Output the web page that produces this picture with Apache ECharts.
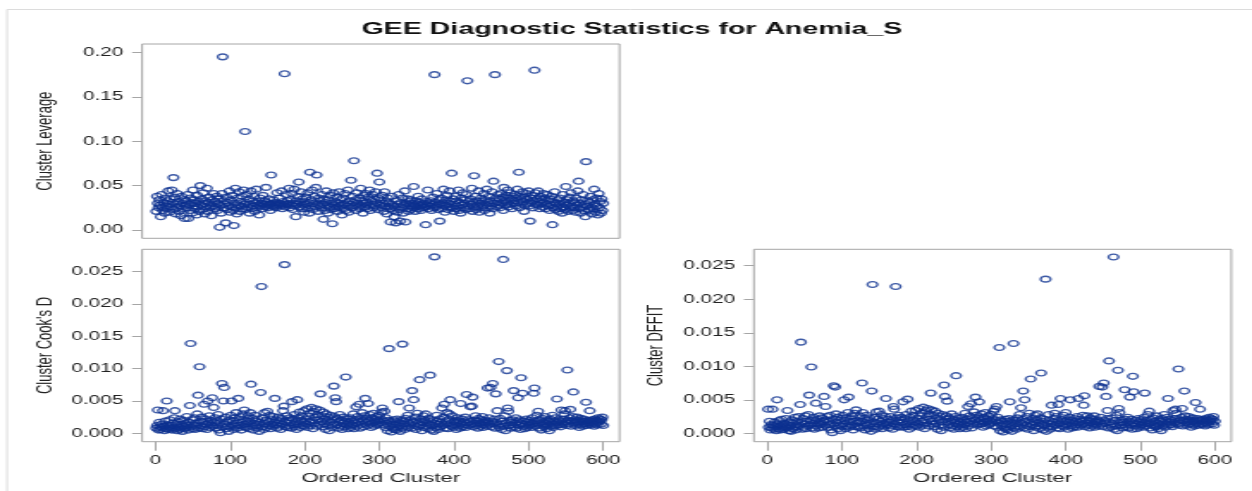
<!DOCTYPE html>
<html>
<head>
<meta charset="utf-8">
<script src="https://cdn.jsdelivr.net/npm/echarts@6/dist/echarts.min.js"></script>
<style>
  html, body { margin: 0; padding: 0; background: #fff; overflow: hidden; }
  /* the panel is laid out narrow and widened horizontally, which gives the wide glyphs and oval markers */
  #chart { width: 728px; height: 491px; transform: scaleX(1.72); transform-origin: 0 0; }
</style>
</head>
<body>
<div id="chart"></div>
<script>
// Cluster leverage, clusters 1..600 in order (20 per row)
const leverage = [
  .021,.038,.030,.025,.034,.028,.015,.040,.026,.022,.031,.019,.036,.027,.024,.033,.044,.029,.020,.035,
  .026,.045,.031,.059,.023,.037,.018,.029,.041,.025,.032,.021,.027,.016,.038,.030,.024,.034,.013,.028,
  .033,.025,.040,.013,.029,.022,.036,.031,.019,.045,.027,.034,.024,.030,.017,.039,.026,.032,.021,.050,
  .028,.035,.023,.042,.030,.018,.033,.026,.047,.021,.031,.037,.025,.029,.016,.034,.027,.041,.024,.032,
  .026,.038,.022,.030,.035,.003,.028,.019,.041,.195,.025,.033,.029,.008,.037,.023,.031,.027,.044,.020,
  .034,.026,.039,.022,.005,.030,.047,.025,.018,.036,.028,.043,.021,.032,.027,.038,.024,.045,.029,.111,
  .023,.031,.040,.026,.035,.019,.029,.044,.024,.033,.027,.038,.021,.030,.046,.025,.032,.028,.017,.036,
  .027,.030,.024,.039,.029,.033,.026,.048,.028,.031,.025,.035,.029,.022,.062,.030,.027,.034,.026,.029,
  .031,.025,.042,.028,.030,.036,.027,.029,.044,.024,.032,.028,.176,.026,.040,.029,.033,.030,.047,.025,
  .034,.028,.041,.023,.030,.046,.027,.015,.033,.029,.038,.054,.026,.031,.043,.024,.035,.028,.020,.032,
  .029,.037,.024,.042,.031,.019,.065,.027,.034,.045,.023,.030,.038,.026,.048,.062,.029,.021,.036,.028,
  .033,.025,.040,.029,.012,.035,.022,.031,.044,.027,.019,.034,.026,.039,.023,.030,.007,.042,.028,.024,
  .032,.026,.037,.021,.030,.043,.025,.034,.028,.017,.036,.024,.029,.041,.022,.031,.027,.045,.020,.033,
  .029,.056,.025,.038,.031,.078,.027,.034,.022,.042,.030,.026,.036,.024,.047,.028,.033,.019,.039,.030,
  .026,.041,.031,.024,.037,.028,.045,.022,.033,.029,.040,.025,.035,.027,.043,.031,.064,.023,.036,.054,
  .028,.034,.025,.039,.030,.021,.043,.027,.032,.018,.036,.026,.031,.024,.009,.029,.038,.022,.027,.015,
  .025,.008,.033,.020,.029,.040,.023,.010,.031,.026,.036,.019,.028,.044,.009,.030,.024,.035,.021,.032,
  .027,.034,.023,.030,.025,.049,.028,.021,.033,.026,.029,.038,.024,.031,.027,.022,.035,.028,.025,.030,
  .026,.006,.032,.028,.045,.024,.030,.027,.033,.022,.029,.037,.025,.175,.031,.026,.041,.028,.023,.034,
  .010,.029,.036,.024,.031,.046,.027,.020,.034,.028,.039,.023,.030,.044,.026,.032,.064,.025,.035,.021,
  .029,.038,.024,.033,.027,.045,.022,.031,.019,.036,.028,.042,.025,.030,.034,.023,.040,.168,.027,.032,
  .024,.035,.029,.047,.021,.031,.061,.026,.038,.023,.033,.028,.044,.020,.030,.036,.025,.032,.027,.041,
  .022,.034,.029,.046,.025,.031,.038,.019,.033,.027,.043,.024,.055,.030,.175,.036,.026,.032,.040,.028,
  .035,.025,.041,.030,.037,.022,.048,.033,.028,.039,.031,.045,.026,.036,.029,.042,.034,.024,.038,.030,
  .033,.040,.027,.036,.046,.031,.065,.025,.038,.034,.029,.043,.032,.021,.037,.028,.041,.035,.030,.044,
  .027,.010,.036,.031,.039,.025,.033,.180,.042,.029,.035,.028,.044,.032,.024,.038,.030,.034,.026,.041,
  .031,.036,.024,.029,.040,.027,.033,.022,.035,.028,.038,.006,.025,.031,.043,.023,.030,.026,.034,.021,
  .029,.036,.024,.032,.019,.040,.026,.031,.023,.049,.028,.034,.021,.030,.037,.025,.042,.027,.022,.033,
  .025,.031,.020,.036,.028,.044,.055,.024,.030,.019,.034,.026,.040,.022,.029,.015,.077,.027,.033,.023,
  .031,.022,.038,.026,.018,.034,.024,.046,.029,.020,.036,.027,.017,.041,.025,.032,.019,.035,.022,.030
];

// Cluster Cook's D, clusters 1..600
const cooksD = [
  .0008,.0012,.0036,.0005,.0017,.0010,.0006,.0014,.0009,.0035,.0011,.0004,.0019,.0007,.0050,.0013,.0006,.0010,.0021,.0008,
  .0012,.0005,.0016,.0009,.0024,.0035,.0007,.0013,.0004,.0018,.0010,.0006,.0022,.0008,.0014,.0003,.0011,.0020,.0007,.0015,
  .0009,.0026,.0012,.0005,.0017,.0043,.0139,.0010,.0021,.0007,.0013,.0024,.0006,.0016,.0011,.0030,.0059,.0008,.0103,.0019,
  .0012,.0025,.0007,.0018,.0045,.0010,.0022,.0014,.0006,.0050,.0016,.0027,.0009,.0020,.0013,.0055,.0011,.0040,.0017,.0024,
  .0008,.0019,.0012,.0029,.0005,.0016,.0001,.0022,.0077,.0010,.0050,.0071,.0014,.0025,.0007,.0018,.0011,.0003,.0021,.0009,
  .0028,.0050,.0013,.0019,.0006,.0024,.0011,.0032,.0016,.0008,.0054,.0021,.0012,.0026,.0005,.0017,.0030,.0010,.0036,.0014,
  .0020,.0009,.0015,.0027,.0007,.0018,.0032,.0076,.0011,.0023,.0005,.0016,.0028,.0012,.0019,.0008,.0022,.0014,.0003,.0017,
  .0063,.0227,.0010,.0024,.0006,.0032,.0015,.0020,.0009,.0034,.0012,.0018,.0028,.0007,.0022,.0014,.0011,.0026,.0017,.0054,
  .0013,.0021,.0008,.0016,.0025,.0011,.0019,.0006,.0023,.0014,.0035,.0042,.0261,.0010,.0017,.0027,.0009,.0020,.0012,.0024,
  .0016,.0008,.0049,.0022,.0013,.0029,.0010,.0018,.0006,.0052,.0024,.0014,.0033,.0009,.0020,.0027,.0012,.0017,.0035,.0011,
  .0022,.0015,.0038,.0009,.0026,.0018,.0031,.0012,.0040,.0020,.0007,.0034,.0016,.0025,.0038,.0011,.0029,.0021,.0014,.0036,
  .0061,.0018,.0027,.0010,.0033,.0015,.0022,.0006,.0030,.0019,.0012,.0025,.0004,.0017,.0028,.0009,.0021,.0014,.0073,.0026,
  .0055,.0049,.0013,.0023,.0008,.0018,.0029,.0011,.0020,.0006,.0016,.0025,.0010,.0019,.0087,.0014,.0022,.0007,.0017,.0012,
  .0024,.0009,.0019,.0013,.0030,.0007,.0021,.0016,.0041,.0011,.0026,.0018,.0045,.0008,.0022,.0014,.0032,.0020,.0010,.0027,
  .0054,.0017,.0023,.0012,.0046,.0019,.0029,.0014,.0009,.0024,.0016,.0031,.0011,.0021,.0018,.0026,.0013,.0020,.0015,.0028,
  .0017,.0022,.0033,.0039,.0013,.0019,.0034,.0009,.0024,.0015,.0004,.0020,.0131,.0011,.0018,.0002,.0014,.0008,.0021,.0006,
  .0013,.0018,.0005,.0022,.0010,.0049,.0016,.0003,.0020,.0008,.0138,.0014,.0019,.0006,.0023,.0011,.0017,.0028,.0009,.0039,
  .0015,.0021,.0008,.0066,.0018,.0052,.0012,.0025,.0006,.0019,.0031,.0010,.0016,.0083,.0013,.0022,.0004,.0017,.0027,.0009,
  .0020,.0030,.0011,.0016,.0007,.0023,.0013,.0090,.0018,.0005,.0012,.0021,.0003,.0273,.0015,.0009,.0028,.0019,.0006,.0014,
  .0022,.0010,.0017,.0039,.0012,.0025,.0045,.0008,.0019,.0014,.0032,.0007,.0021,.0030,.0052,.0016,.0011,.0027,.0009,.0018,
  .0013,.0020,.0006,.0017,.0024,.0011,.0019,.0008,.0046,.0015,.0022,.0010,.0018,.0013,.0025,.0009,.0060,.0016,.0021,.0012,
  .0018,.0041,.0014,.0042,.0056,.0010,.0020,.0015,.0027,.0012,.0019,.0008,.0023,.0016,.0011,.0021,.0014,.0026,.0009,.0017,
  .0013,.0020,.0016,.0011,.0070,.0018,.0024,.0014,.0071,.0010,.0019,.0077,.0015,.0022,.0008,.0061,.0017,.0035,.0012,.0111,
  .0009,.0023,.0014,.0006,.0019,.0269,.0011,.0027,.0004,.0016,.0097,.0039,.0034,.0012,.0020,.0008,.0017,.0013,.0021,.0066,
  .0010,.0016,.0024,.0008,.0018,.0055,.0013,.0021,.0006,.0086,.0015,.0062,.0011,.0019,.0007,.0014,.0022,.0009,.0017,.0012,
  .0020,.0013,.0017,.0009,.0024,.0015,.0062,.0070,.0011,.0019,.0028,.0014,.0034,.0008,.0021,.0016,.0005,.0023,.0012,.0018,
  .0010,.0026,.0015,.0007,.0020,.0013,.0018,.0004,.0022,.0011,.0016,.0028,.0009,.0019,.0014,.0024,.0012,.0053,.0017,.0021,
  .0013,.0019,.0010,.0036,.0016,.0022,.0014,.0030,.0035,.0018,.0012,.0098,.0020,.0015,.0024,.0037,.0011,.0019,.0026,.0064,
  .0016,.0021,.0012,.0018,.0025,.0014,.0020,.0009,.0017,.0023,.0013,.0019,.0011,.0022,.0015,.0018,.0048,.0012,.0020,.0016,
  .0014,.0035,.0019,.0013,.0021,.0016,.0018,.0011,.0022,.0015,.0020,.0013,.0024,.0017,.0019,.0022,.0014,.0021,.0025,.0012
];

// Cluster DFFIT, clusters 1..600
const dffit = [
  .0036,.0009,.0018,.0005,.0013,.0008,.0036,.0012,.0006,.0017,.0010,.0004,.0050,.0014,.0007,.0019,.0011,.0005,.0021,.0009,
  .0013,.0006,.0015,.0010,.0022,.0008,.0034,.0012,.0004,.0017,.0011,.0003,.0020,.0007,.0015,.0009,.0024,.0005,.0013,.0018,
  .0010,.0025,.0012,.0043,.0136,.0016,.0006,.0022,.0009,.0014,.0026,.0007,.0018,.0011,.0028,.0057,.0013,.0019,.0099,.0008,
  .0015,.0024,.0006,.0019,.0045,.0011,.0021,.0014,.0008,.0026,.0016,.0013,.0023,.0009,.0018,.0055,.0012,.0040,.0020,.0025,
  .0009,.0018,.0013,.0027,.0005,.0015,.0001,.0021,.0071,.0011,.0069,.0029,.0016,.0024,.0007,.0019,.0012,.0004,.0022,.0010,
  .0027,.0014,.0050,.0019,.0007,.0023,.0011,.0031,.0054,.0009,.0017,.0021,.0012,.0026,.0005,.0018,.0030,.0010,.0035,.0015,
  .0019,.0009,.0016,.0026,.0008,.0018,.0075,.0031,.0011,.0022,.0005,.0016,.0027,.0012,.0020,.0007,.0023,.0014,.0003,.0063,
  .0222,.0017,.0010,.0024,.0006,.0032,.0015,.0021,.0009,.0033,.0012,.0018,.0028,.0007,.0022,.0014,.0011,.0025,.0052,.0016,
  .0013,.0021,.0008,.0016,.0025,.0011,.0019,.0006,.0040,.0036,.0014,.0219,.0023,.0010,.0017,.0027,.0009,.0020,.0012,.0024,
  .0016,.0047,.0009,.0022,.0013,.0028,.0010,.0051,.0018,.0006,.0024,.0014,.0033,.0009,.0020,.0027,.0012,.0017,.0034,.0011,
  .0022,.0015,.0037,.0009,.0026,.0018,.0030,.0012,.0039,.0020,.0007,.0034,.0016,.0025,.0037,.0011,.0029,.0021,.0060,.0035,
  .0018,.0014,.0027,.0010,.0033,.0015,.0022,.0006,.0030,.0019,.0012,.0025,.0004,.0017,.0028,.0009,.0072,.0055,.0021,.0026,
  .0048,.0017,.0013,.0023,.0008,.0018,.0029,.0011,.0020,.0006,.0016,.0025,.0086,.0010,.0019,.0014,.0022,.0007,.0017,.0012,
  .0024,.0009,.0019,.0013,.0030,.0007,.0021,.0016,.0040,.0011,.0026,.0018,.0044,.0008,.0022,.0014,.0032,.0020,.0054,.0027,
  .0012,.0017,.0023,.0047,.0014,.0019,.0029,.0014,.0009,.0024,.0016,.0031,.0011,.0021,.0018,.0026,.0013,.0020,.0015,.0028,
  .0017,.0022,.0033,.0011,.0036,.0019,.0040,.0009,.0024,.0015,.0128,.0004,.0020,.0011,.0018,.0002,.0014,.0008,.0021,.0006,
  .0013,.0018,.0005,.0022,.0047,.0010,.0016,.0003,.0020,.0134,.0008,.0014,.0019,.0006,.0023,.0011,.0017,.0028,.0009,.0038,
  .0015,.0021,.0063,.0008,.0050,.0018,.0012,.0025,.0006,.0019,.0030,.0010,.0081,.0016,.0013,.0022,.0004,.0017,.0027,.0009,
  .0020,.0029,.0011,.0016,.0007,.0023,.0090,.0013,.0018,.0005,.0012,.0021,.0230,.0003,.0015,.0009,.0028,.0019,.0006,.0014,
  .0042,.0010,.0017,.0022,.0030,.0012,.0025,.0008,.0019,.0043,.0014,.0007,.0052,.0021,.0016,.0011,.0027,.0009,.0018,.0031,
  .0013,.0020,.0006,.0017,.0024,.0050,.0011,.0019,.0008,.0015,.0022,.0010,.0018,.0013,.0025,.0009,.0052,.0016,.0021,.0012,
  .0018,.0014,.0027,.0042,.0056,.0010,.0020,.0015,.0026,.0012,.0019,.0008,.0023,.0016,.0011,.0021,.0014,.0026,.0009,.0017,
  .0013,.0020,.0016,.0011,.0070,.0018,.0024,.0014,.0069,.0010,.0075,.0019,.0015,.0055,.0022,.0034,.0008,.0108,.0017,.0012,
  .0009,.0023,.0014,.0263,.0006,.0019,.0011,.0027,.0004,.0094,.0037,.0031,.0016,.0012,.0020,.0008,.0017,.0013,.0065,.0021,
  .0010,.0016,.0024,.0008,.0018,.0054,.0013,.0021,.0006,.0085,.0062,.0015,.0011,.0019,.0007,.0014,.0022,.0009,.0017,.0012,
  .0020,.0013,.0017,.0009,.0024,.0060,.0015,.0011,.0019,.0028,.0014,.0033,.0008,.0021,.0016,.0005,.0023,.0012,.0018,.0010,
  .0010,.0026,.0015,.0007,.0020,.0013,.0018,.0004,.0022,.0011,.0016,.0028,.0009,.0019,.0014,.0024,.0052,.0012,.0017,.0021,
  .0013,.0019,.0010,.0034,.0016,.0022,.0036,.0030,.0014,.0018,.0096,.0012,.0020,.0015,.0024,.0037,.0011,.0019,.0063,.0026,
  .0016,.0021,.0012,.0018,.0025,.0014,.0020,.0009,.0017,.0023,.0013,.0019,.0011,.0046,.0015,.0018,.0022,.0012,.0020,.0036,
  .0014,.0019,.0013,.0021,.0016,.0018,.0011,.0022,.0015,.0020,.0013,.0024,.0017,.0019,.0022,.0014,.0021,.0025,.0012,.0018
];

// Tick values shown on each axis
const clusterTicks = [0, 100, 200, 300, 400, 500, 600];
const leverageTicks = [0, 0.05, 0.10, 0.15, 0.20];
const cooksTicks = [0, 0.005, 0.010, 0.015, 0.020, 0.025];
const dffitTicks = [0, 0.005, 0.010, 0.015, 0.020, 0.025];

const FONT = '"Liberation Sans", Arial, Helvetica, sans-serif';
const MARKER = '#0d3190';
const FRAME = '#a6a6a6';
const TEXT = '#222';

// [ordered cluster, statistic] pairs
function toPoints(values) {
  return values.map((v, i) => [i + 1, v]);
}

function clusterAxis(gridIndex, labelled) {
  return {
    type: 'value', gridIndex, min: -18, max: 622,
    axisLine: { show: false, onZero: false },
    splitLine: { show: false },
    axisTick: { show: labelled, length: 9, customValues: clusterTicks, lineStyle: { color: FRAME, width: 1 } },
    axisLabel: { show: labelled, customValues: clusterTicks, margin: 13, fontSize: 12, fontFamily: FONT, color: TEXT },
    name: labelled ? 'Ordered Cluster' : '',
    nameLocation: 'middle', nameGap: 30,
    nameTextStyle: { fontSize: 13, fontFamily: FONT, color: TEXT }
  };
}

function statAxis(gridIndex, min, max, ticks, digits, title) {
  return {
    type: 'value', gridIndex, min, max,
    axisLine: { show: false, onZero: false },
    splitLine: { show: false },
    axisTick: { length: 5.8, customValues: ticks, lineStyle: { color: FRAME, width: 1 } },
    axisLabel: { customValues: ticks, margin: 11, fontSize: 12, fontFamily: FONT, color: TEXT,
                 formatter: v => v.toFixed(digits) },
    name: title, nameLocation: 'middle', nameGap: 50,
    nameTextStyle: { fontSize: 13, fontFamily: FONT, color: TEXT }
  };
}

function panel(gridIndex, values) {
  return {
    type: 'scatter', xAxisIndex: gridIndex, yAxisIndex: gridIndex,
    data: toPoints(values),
    symbol: 'circle', symbolSize: 5.8,
    itemStyle: { color: 'rgba(0,0,0,0)', borderColor: MARKER, borderWidth: 1.35 },
    silent: true, animation: false
  };
}

const gridBox = { show: true, borderColor: FRAME, borderWidth: 1, backgroundColor: '#fff',
                  containLabel: false, outerBoundsMode: 'none' };

const chart = echarts.init(document.getElementById('chart'), null, { renderer: 'canvas' });
chart.setOption({
  animation: false,
  backgroundColor: '#fff',
  graphic: [
    { type: 'rect', silent: true, z: -10,
      shape: { x: 4.1, y: 9.5, width: 1000, height: 1000 },
      style: { fill: 'none', stroke: '#dcdcdc', lineWidth: 1 } },
    { type: 'text', silent: true, x: 367.4, y: 29,
      style: { text: 'GEE Diagnostic Statistics for Anemia_S', font: 'bold 16.6px ' + FONT,
               fill: '#111', align: 'center', verticalAlign: 'middle' } }
  ],
  grid: [
    Object.assign({ left: 82.6, top: 44, width: 277.6, height: 194.3 }, gridBox),
    Object.assign({ left: 82.6, top: 249.3, width: 277.6, height: 192.4 }, gridBox),
    Object.assign({ left: 438.3, top: 249.3, width: 277.6, height: 192.4 }, gridBox)
  ],
  xAxis: [clusterAxis(0, false), clusterAxis(1, true), clusterAxis(2, true)],
  yAxis: [
    statAxis(0, -0.00935, 0.2095, leverageTicks, 2, 'Cluster Leverage'),
    statAxis(1, -0.0013, 0.02847, cooksTicks, 3, "Cluster Cook's D"),
    statAxis(2, -0.00125, 0.02745, dffitTicks, 3, 'Cluster DFFIT')
  ],
  series: [panel(0, leverage), panel(1, cooksD), panel(2, dffit)]
});
</script>
</body>
</html>
